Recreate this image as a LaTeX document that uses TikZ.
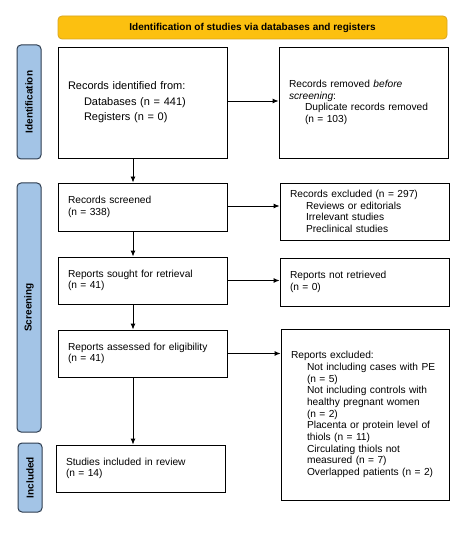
\documentclass[tikz,border=0pt]{standalone}
\usepackage{fontspec}
\setmainfont{Liberation Sans}
\usetikzlibrary{arrows.meta}
\definecolor{hdrfill}{HTML}{FCC010}
\definecolor{hdrdraw}{HTML}{D9A520}
\definecolor{sidefill}{HTML}{A3C4E6}
\definecolor{sidedraw}{HTML}{2E3D50}
\newcommand{\ind}{\hspace*{16pt}}
\tikzset{
  box/.style={draw=black, line width=0.9pt, inner xsep=10pt, inner ysep=0pt, align=left, font=\fontsize{10.2pt}{11.7pt}\selectfont},
  bigbox/.style={box, font=\fontsize{11pt}{15.5pt}\selectfont},
  hdr/.style={draw=hdrdraw, fill=hdrfill, line width=0.8pt, rounded corners=4pt, font=\bfseries\fontsize{10pt}{12pt}\selectfont},
  side/.style={draw=sidedraw, fill=sidefill, line width=1pt, rounded corners=4pt, font=\bfseries\fontsize{10pt}{12pt}\selectfont},
  sidetext/.style={rotate=90, font=\bfseries\fontsize{10pt}{12pt}\selectfont},
  arr/.style={line width=0.9pt, -{Latex[length=6pt,width=5pt]}}
}
\begin{document}
\begin{tikzpicture}[x=1pt,y=-1pt]
\fill[white] (0,0) rectangle (474,537);
\useasboundingbox (0,0) rectangle (474,537);
% header
\node[hdr, minimum width=389pt, minimum height=23pt] (hdr) at (252.5,27.5) {Identification of studies via databases and registers};
% side bars
\node[side, minimum width=24pt, minimum height=114pt] (sid) at (29,102) {};
\node[sidetext] (sidt) at (sid.center) {Identification};
\node[side, minimum width=24pt, minimum height=249pt] (sscr) at (29,307.5) {};
\node[sidetext] (sscrt) at (sscr.center) {Screening};
\node[side, minimum width=24pt, minimum height=69pt] (sinc) at (30,477.5) {};
\node[sidetext] (sinct) at (sinc.center) {Included};
% left column
\node[bigbox, minimum height=111pt, text width=149pt] (ident) at (142.5,102.5) {Records identified from:\\\ind Databases (n = 441)\\\ind Registers (n = 0)};
\node[box, minimum height=48pt, text width=149pt] (scr) at (142.5,207) {Records screened\\(n = 338)};
\node[box, minimum height=47pt, text width=149pt] (sought) at (142.5,280.5) {Reports sought for retrieval\\(n = 41)};
\node[box, minimum height=47pt, text width=149pt] (assess) at (142.5,353.5) {Reports assessed for eligibility\\(n = 41)};
\node[box, minimum height=47pt, text width=149pt] (incl) at (140.5,468.5) {Studies included in review\\(n = 14)};
% right column
\node[box, minimum height=111pt, text width=149pt] (removed) at (363.5,102.5) {Records removed \textit{before}\\\textit{screening}:\\\ind Duplicate records removed\\\ind (n = 103)};
\node[box, minimum height=57pt, text width=149pt] (excl) at (364.5,211.5) {Records excluded (n = 297)\\\ind Reviews or editorials\\\ind Irrelevant studies\\\ind Preclinical studies};
\node[box, minimum height=48pt, text width=149pt] (notret) at (364.5,282) {Reports not retrieved\\(n = 0)};
\node[box, minimum height=171pt, text width=148pt] (repexcl) at (365,414.5) {Reports excluded:\\\ind Not including cases with PE\\\ind (n = 5)\\\ind Not including controls with\\\ind healthy pregnant women\\\ind (n = 2)\\\ind Placenta or protein level of\\\ind thiols (n = 11)\\\ind Circulating thiols not\\\ind measured (n = 7)\\\ind Overlapped patients (n = 2)};
% horizontal arrows
\draw[arr] ([yshift=1.5pt]ident.east) -- ([yshift=1.5pt]ident.east -| removed.west);
\draw[arr] ([yshift=1pt]scr.east) -- ([yshift=1pt]scr.east -| excl.west);
\draw[arr] (sought.east) -- (sought.east -| notret.west);
\draw[arr] (assess.east) -- (assess.east -| repexcl.west);
% vertical arrows
\draw[arr] ([xshift=-9.5pt]ident.south) -- ([xshift=-9.5pt]ident.south |- scr.north);
\draw[arr] ([xshift=-9.5pt]scr.south) -- ([xshift=-9.5pt]scr.south |- sought.north);
\draw[arr] ([xshift=-9.5pt]sought.south) -- ([xshift=-9.5pt]sought.south |- assess.north);
\draw[arr] ([xshift=-9.5pt]assess.south) -- ([xshift=-9.5pt]assess.south |- incl.north);
\end{tikzpicture}
\end{document}
